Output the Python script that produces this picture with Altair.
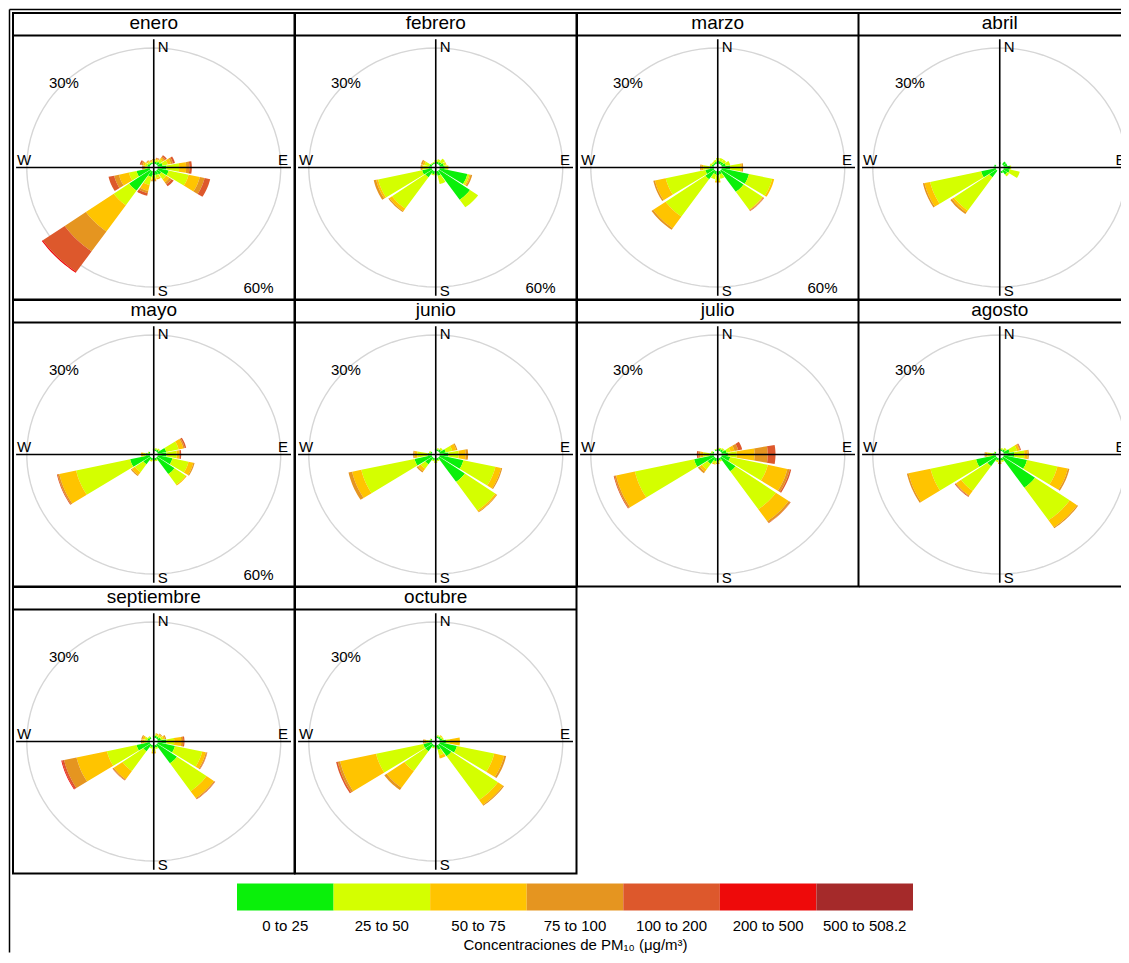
import altair as alt
import pandas as pd

# ---------------- data ----------------
MONTHS = ["enero", "febrero", "marzo", "abril", "mayo", "junio",
          "julio", "agosto", "septiembre", "octubre"]
BINS = ["0 to 25", "25 to 50", "50 to 75", "75 to 100",
        "100 to 200", "200 to 500", "500 to 508.2"]
COLORS = ["#0AF00A", "#D4FF00", "#FFC400", "#E59520",
          "#DD582C", "#EE0A0A", "#A52A2A"]
LEGEND_TITLE = "Concentraciones de PM\u2081\u2080 (\u03bcg/m\u00b3)"
GRID_PCT = [30]
COMPASS_LEFT = ["N", "S", "W"]
COMPASS_RIGHT = ["E"]

# frequency (%) per wind direction, stacked by concentration bin
enero = {0: [0.4, 0.4, 0.2, 0.2], 22.5: [0.5, 0.5, 0.3, 0.2, 0.1],
         45: [0.8, 0.8, 0.5, 0.4, 0.4], 67.5: [1.2, 1.3, 0.8, 0.5, 0.5],
         90: [2.1, 3.1, 1.7, 0.8, 0.6], 112.5: [2.7, 5.0, 2.8, 1.2, 1.4],
         135: [1.2, 1.55, 0.93, 0.62, 0.62], 157.5: [1.0, 0.8, 0.4],
         180: [1.0, 0.8, 0.5, 0.3], 202.5: [1.5, 2.15, 1.55, 0.6, 0.7],
         225: [6.3, 4.6, 8.3, 6.3, 6.5, 0.3], 247.5: [3.3, 1.9, 2.5, 1.2, 1.4],
         270: [0.6, 0.5, 0.3, 0.2, 0.2], 292.5: [0.6, 0.6, 0.5, 0.4, 0.4],
         315: [0.4, 0.4, 0.3, 0.2], 337.5: [0.3, 0.3, 0.2, 0.2]}
febrero = {0: [0.5, 0.4], 22.5: [0.5, 0.7], 45: [0.7, 1.1],
           67.5: [1.0, 0.5, 0.2], 90: [1.2, 0.6, 0.3],
           112.5: [6.9, 0.5, 0.3, 0.4], 135: [9.2, 2.4], 157.5: [1.2, 2.2],
           180: [0.6, 0.4], 202.5: [0.8, 0.3], 225: [2.1, 9.9, 0.8, 0.3],
           247.5: [2.4, 11.0, 0.5, 0.6], 270: [0.8, 1.3, 0.3, 0.3],
           292.5: [0.6, 1.2, 0.5, 0.4], 315: [0.3, 0.2], 337.5: [0.3, 0.2]}
marzo = {0: [0.7, 0.8], 22.5: [0.7, 0.8], 45: [0.7, 0.8], 67.5: [1.0, 1.1],
         90: [2.0, 2.5, 0.4, 0.3], 112.5: [6.8, 5.8, 0.5],
         135: [6.7, 5.6, 0.2, 0.2, 0.1], 157.5: [0.8, 1.2],
         180: [1.0, 1.5, 0.4], 202.5: [0.8, 1.3], 225: [2.7, 11.8, 3.7, 0.5],
         247.5: [2.1, 9.9, 2.7, 0.4], 270: [1.0, 1.5, 0.5, 0.3],
         292.5: [0.5, 0.5], 315: [0.4, 0.4], 337.5: [0.5, 0.5]}
abril = {0: [0.3], 45: [0.9], 67.5: [0.9], 90: [1.5, 0.3], 112.5: [1.5, 2.5],
         135: [1.2, 0.6], 157.5: [0.5], 225: [2.1, 10.5, 0.6, 0.5],
         247.5: [3.65, 12.75, 1.4, 0.4], 270: [0.5], 292.5: [0.4]}
mayo = {0: [0.3, 0.2], 22.5: [0.4, 0.3], 45: [0.5, 0.4],
        67.5: [2.1, 3.1, 1.2, 0.35, 0.35], 90: [2.1, 2.5, 0.6, 0.2, 0.3],
        112.5: [3.65, 4.05, 1.2, 0.3], 135: [5.2, 3.3, 0.3], 157.5: [0.5, 0.3],
        180: [0.4, 0.3], 202.5: [0.5, 0.4], 225: [2.1, 2.5, 0.9, 0.3],
        247.5: [4.9, 13.5, 4.2, 0.4, 0.2], 270: [1.0, 0.6, 0.5],
        292.5: [0.3, 0.2]}
junio = {0: [0.3], 22.5: [0.4, 0.3], 45: [0.6, 0.5], 67.5: [1.5, 1.6, 1.0, 0.3],
         90: [2.1, 2.5, 1.7, 0.6], 112.5: [5.9, 8.0, 1.4, 0.3],
         135: [7.65, 9.05, 0.4, 0.2], 157.5: [0.5, 0.3], 180: [0.6, 0.6],
         202.5: [0.5, 0.3], 225: [2.1, 1.4, 0.8, 0.4],
         247.5: [4.3, 13.3, 2.3, 0.9], 270: [1.0, 2.5, 0.7, 0.3],
         292.5: [0.4, 0.3]}
julio = {0: [0.4, 0.2], 22.5: [0.5, 0.3], 45: [0.6, 0.4],
         67.5: [1.2, 1.0, 1.0, 0.9, 1.0], 90: [1.5, 2.15, 4.35, 3.2, 1.9],
         112.5: [2.1, 9.4, 4.9, 0.6, 0.35], 135: [4.3, 12.0, 3.8, 0.5, 0.1],
         157.5: [0.5, 0.4], 180: [0.7, 0.5, 0.3], 202.5: [0.8, 0.6, 0.3],
         225: [2.0, 1.7, 0.7, 0.5], 247.5: [4.9, 14.8, 4.7, 0.4, 0.2],
         270: [1.0, 1.5, 0.8, 0.4, 0.4], 292.5: [0.4, 0.3], 337.5: [0.3, 0.2]}
agosto = {0: [0.3, 0.2], 22.5: [0.4, 0.3], 45: [0.6, 0.5],
          67.5: [1.5, 1.8, 0.6, 0.2, 0.2], 90: [2.5, 2.5, 0.8, 0.3],
          112.5: [5.8, 7.6, 2.6, 0.4], 135: [9.5, 10.3, 2.2, 0.3],
          157.5: [0.6, 0.4], 180: [0.5, 0.5, 0.5], 202.5: [0.6, 0.4],
          225: [2.7, 7.8, 1.5, 0.2, 0.2], 247.5: [4.9, 11.4, 5.5, 0.4],
          270: [0.8, 1.2, 0.5, 0.2], 292.5: [0.3, 0.2]}
septiembre = {0: [0.3, 0.2], 22.5: [0.5, 0.4, 0.3], 45: [0.5, 0.5, 0.3, 0.2],
              67.5: [0.8, 0.6, 0.4, 0.3], 90: [2.1, 1.9, 1.7, 0.5, 0.3],
              112.5: [4.3, 6.8, 0.9, 0.3, 0.1], 135: [5.9, 8.8, 2.2, 0.3, 0.1],
              157.5: [0.6, 0.4], 180: [0.8, 0.8, 0.5], 202.5: [0.5, 0.4],
              225: [2.1, 6.2, 2.6, 0.3, 0.1],
              247.5: [3.3, 7.4, 7.6, 3.1, 0.5, 0.2],
              270: [0.6, 0.7, 0.5, 0.3], 292.5: [0.6, 0.7, 0.5, 0.3],
              315: [0.4, 0.3]}
octubre = {0: [0.3], 22.5: [0.4, 0.3], 45: [0.5, 0.3, 0.2], 67.5: [0.6, 0.4],
           90: [1.5, 1.0, 2.4], 112.5: [4.3, 9.3, 2.5, 0.5],
           135: [3.65, 13.85, 1.5, 0.3], 157.5: [1.2, 1.5, 0.8],
           180: [0.5, 0.3], 202.5: [0.5, 0.3], 225: [2.1, 6.2, 5.3, 0.7],
           247.5: [2.1, 11.8, 9.0, 0.6, 0.4], 270: [0.6, 0.7, 0.5, 0.3],
           292.5: [0.3, 0.2]}
ROSES = [enero, febrero, marzo, abril, mayo, junio, julio, agosto,
         septiembre, octubre]

# ---------------- layout / style ----------------
FONT = "Liberation Sans"
OFFSET = 1.0            # small hole in the middle (in % units)
WEDGE = 20.25           # wedge width in degrees (22.5 sector * 0.9)
NSTEP = 10              # points along each arc
W, H, STRIP = 281.5, 286.5, 22.5
W_LAST = 268.5          # last column is cut by the page edge
PX_X = 127.0 / 31.0     # px per unit horizontally
PX_Y = 119.5 / 31.0     # px per unit vertically
XD = (W / 2) / PX_X
YLO = -((H - STRIP) / 2) / PX_Y
YTOP = ((H - STRIP) / 2) / PX_Y
YHI = ((H - STRIP) / 2 + STRIP) / PX_Y
PITCH_XU = W / PX_X
PITCH_YU = H / PX_Y
NCOL = 4
NROW = 3
TOTAL_W = (NCOL - 1) * W + W_LAST
LEG_HOST = 8            # legend is drawn below the first panel of the last row
LEG_GAP, LEG_H = 10, 27
FRAME_END = NROW * H + 80

color_scale = alt.Scale(domain=BINS, range=COLORS)
ys = alt.Scale(domain=[YLO, YHI], nice=False, zero=False)


def month_frame(rose):
    rows = []
    for d, vals in rose.items():
        for b, v in enumerate(vals):
            rows.append({"dir": d, "b": b, "bin": BINS[b], "pct": v})
    return pd.DataFrame(rows)


def panel(i, name, rose):
    col = i % NCOL
    last = col == NCOL - 1
    wi = W_LAST if last else W
    x_right = -XD + wi / PX_X
    xs = alt.Scale(domain=[-XD, x_right], nice=False, zero=False)
    clip = bool(last)

    def X(f):
        return alt.X(f, type="quantitative", scale=xs, axis=None)

    def Y(f):
        return alt.Y(f, type="quantitative", scale=ys, axis=None)

    df = month_frame(rose)

    grid = alt.Chart(pd.DataFrame({"g": GRID_PCT})).transform_calculate(
        deg="sequence(0, 364, 4)"
    ).transform_flatten(["deg"]).transform_calculate(
        px=f"(datum.g + {OFFSET}) * sin(datum.deg * PI / 180)",
        py=f"(datum.g + {OFFSET}) * cos(datum.deg * PI / 180)",
    ).mark_line(color="#D6D6D6", strokeWidth=1.4, clip=clip).encode(
        x=X("px"), y=Y("py"), order="deg:Q", detail="g:N")

    rose_l = alt.Chart(df).transform_stack(
        stack="pct", groupby=["dir"],
        sort=[alt.SortField("b", order="ascending")], as_=["c0", "c1"]
    ).transform_calculate(
        pts=f"sequence(0, {2 * NSTEP + 2})"
    ).transform_flatten(["pts"], as_=["k"]).transform_calculate(
        ang=(f"(datum.k <= {NSTEP} ? datum.dir - {WEDGE / 2} + datum.k * {WEDGE / NSTEP}"
             f" : datum.dir + {WEDGE / 2} - (datum.k - {NSTEP + 1}) * {WEDGE / NSTEP}) * PI / 180"),
        rad=f"(datum.k <= {NSTEP} ? datum.c1 : datum.c0) + {OFFSET}",
        seg="datum.dir + '_' + datum.b",
    ).transform_calculate(
        px="datum.rad * sin(datum.ang)",
        py="datum.rad * cos(datum.ang)",
    ).mark_line(filled=True, strokeWidth=0, clip=clip).encode(
        x=X("px"), y=Y("py"), order="k:Q", detail="seg:N",
        color=alt.Color("bin:N", scale=color_scale, legend=None))

    # keep the right end of cut panels' lines inside the page
    x_line_end = x_right - (2.0 / PX_X if last else 0.0)

    axes_df = pd.DataFrame({"x": [-33.6, 0.0], "x2": [min(33.5, x_line_end), 0.0],
                            "y": [0.0, -33.3], "y2": [0.0, 33.3]})
    axes = alt.Chart(axes_df).mark_rule(color="black", strokeWidth=1.6).encode(
        x=X("x"), x2="x2", y=Y("y"), y2="y2")

    lab_l = alt.Chart(pd.DataFrame({"t": COMPASS_LEFT, "x": [0.98, 0.98, -33.37],
                                    "y": [31.3, -32.0, 2.0]})).mark_text(
        align="left", baseline="middle", fontSize=15, font=FONT, color="black"
    ).encode(x=X("x"), y=Y("y"), text="t:N")
    lab_r = alt.Chart(pd.DataFrame({"t": COMPASS_RIGHT, "x": [min(32.8, x_line_end)],
                                    "y": [2.0]})).mark_text(
        align="right", baseline="middle", fontSize=15, font=FONT, color="black"
    ).encode(x=X("x"), y=Y("y"), text="t:N")

    pct = alt.Chart(pd.DataFrame({"v": GRID_PCT})).transform_calculate(
        lab="datum.v + '%'",
        px=f"-(datum.v + {OFFSET}) * sin(PI / 4)",
        py=f"(datum.v + {OFFSET}) * cos(PI / 4)",
    ).mark_text(fontSize=15, font=FONT, color="black", baseline="middle").encode(
        x=X("px"), y=Y("py"), text="lab:N")

    strip_line = alt.Chart(pd.DataFrame({"x": [-XD], "x2": [x_line_end], "y": [YTOP]})).mark_rule(
        color="black", strokeWidth=2).encode(x=X("x"), x2="x2", y=Y("y"))
    strip_txt = alt.Chart(pd.DataFrame({"m": [name], "x": [0.0],
                                        "y": [YHI - 10.0 / PX_Y]})).mark_text(
        fontSize=19, font=FONT, color="black", baseline="middle").encode(
        x=X("x"), y=Y("y"), text="m:N")

    layers = [grid, rose_l, axes, lab_l, lab_r, pct, strip_line, strip_txt]

    if last:
        # top and bottom borders (no right border: the panel is cut by the page)
        borders = alt.Chart(pd.DataFrame({"x": [-XD, -XD], "x2": [x_line_end, x_line_end],
                                          "y": [YHI, YLO]})).mark_rule(
            color="black", strokeWidth=2).encode(x=X("x"), x2="x2", y=Y("y"))
        layers.append(borders)

    # the 60% label of the panel below-right spills into this one
    if col < NCOL - 1 and i + NCOL + 1 < len(MONTHS):
        spill = alt.Chart(pd.DataFrame({"v": [60]})).transform_calculate(
            lab="datum.v + '%'",
            px=f"-(datum.v + {OFFSET}) * sin(PI / 4) + {PITCH_XU}",
            py=f"(datum.v + {OFFSET}) * cos(PI / 4) - {PITCH_YU}",
        ).mark_text(fontSize=15, font=FONT, color="black", baseline="middle").encode(
            x=X("px"), y=Y("py"), text="lab:N")
        layers.append(spill)

    if i == 0:
        one = pd.DataFrame({"a": [0]})
        frame_v = alt.Chart(one).mark_rule(color="black", strokeWidth=1.5).encode(
            x=alt.value(-3.5), y=alt.value(-3.5), y2=alt.value(FRAME_END))
        frame_h = alt.Chart(one).mark_rule(color="black", strokeWidth=1.5).encode(
            x=alt.value(-3.5), x2=alt.value(TOTAL_W - 2), y=alt.value(-3.5))
        layers += [frame_v, frame_h]

    resolve_x = False
    if i == LEG_HOST:
        leg = alt.Chart(pd.DataFrame({"bin": BINS})).mark_rect().encode(
            x=alt.X("bin:N", sort=BINS,
                    scale=alt.Scale(domain=BINS, range=[224, 900],
                                    paddingInner=0, paddingOuter=0),
                    axis=alt.Axis(title=LEGEND_TITLE, orient="bottom", domain=False,
                                  ticks=False, labelAngle=0, labelFontSize=15,
                                  titleFontSize=15, titleFontWeight="normal",
                                  labelPadding=8, titlePadding=4, offset=LEG_GAP + LEG_H,
                                  labelOverlap=False, labelColor="black",
                                  titleColor="black", labelFont=FONT, titleFont=FONT)),
            y=alt.value(H + LEG_GAP), y2=alt.value(H + LEG_GAP + LEG_H),
            color=alt.Color("bin:N", scale=color_scale, legend=None),
        )
        layers.append(leg)
        resolve_x = True

    view = (alt.ViewBackground(strokeWidth=0) if last
            else alt.ViewBackground(stroke="black", strokeWidth=2))
    ch = alt.layer(*layers).properties(width=wi, height=H, view=view)
    if resolve_x:
        ch = ch.resolve_scale(x="independent")
    return ch


panels = [panel(i, m, r) for i, (m, r) in enumerate(zip(MONTHS, ROSES))]
chart = alt.concat(*panels, columns=NCOL, spacing=0, bounds="flush").properties(
    padding={"left": -1, "top": -1, "right": -7, "bottom": 0}, background="white"
).configure(font=FONT).configure_view(strokeWidth=0)

chart.save("out.html", embed_options={"renderer": "svg", "actions": False})
